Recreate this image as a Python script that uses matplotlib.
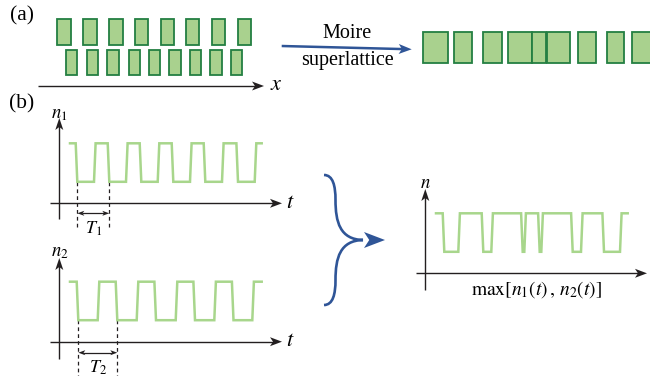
import numpy as np
import matplotlib.pyplot as plt
from matplotlib.patches import Rectangle, Polygon, PathPatch
from matplotlib.path import Path

plt.rcParams['font.family'] = ['Liberation Serif', 'DejaVu Serif']
plt.rcParams['mathtext.fontset'] = 'stix'

# =============================================================================
# Data
# =============================================================================

# (a) two lattices: left edges of the boxes
top_row_x = [57.3, 83.3, 109.3, 135.0, 161.0, 186.0, 212.0, 237.7]
bottom_row_x = [66.0, 86.7, 107.3, 128.7, 149.0, 169.3, 190.0, 210.3, 231.0]

# moire superlattice: box edges (left, right)
moire_left = [423.3, 454.3, 483.3, 507.7, 532.3, 546.7, 578.3, 607.3, 632.3]
moire_right = [447.7, 472.3, 501.7, 532.3, 546.0, 570.0, 595.7, 624.3, 656.0]

# (b) square waves, t measured from the n axis; low intervals (start, end)
t_span = (10.7, 202.4)
n1_lows = [(18.0, 34.7), (50.0, 66.7), (82.0, 98.4), (114.0, 130.7),
           (146.0, 162.7), (178.7, 195.4)]
n2_lows = [(19.0, 38.4), (58.0, 77.4), (96.7, 116.4), (135.7, 155.0),
           (174.2, 193.0)]
nmax_lows = [(19.0, 33.0), (58.0, 66.0), (97.4, 99.0), (114.4, 116.0),
             (147.4, 155.7), (178.7, 194.7)]
n_high = 60.0
n_low = 21.5

# colours
GREEN_FILL = '#a9d18e'
GREEN_EDGE = '#237f42'
WAVE = '#a8d68c'
BLUE = '#2f5597'
INK = '#231f20'


# =============================================================================
# Helpers
# =============================================================================

def stealth(ax, tip, d, length, width, color, notch=0.25):
    d = np.asarray(d, float)
    d = d / np.hypot(*d)
    p = np.array([-d[1], d[0]])
    tip = np.asarray(tip, float)
    back = tip - d * length
    pts = [tip, back + p * width / 2, tip - d * length * (1 - notch),
           back - p * width / 2]
    ax.add_patch(Polygon(pts, closed=True, fc=color, ec='none', zorder=5))


def arrow(ax, start, tip, color, lw, length, width, both=False):
    start = np.asarray(start, float)
    tip = np.asarray(tip, float)
    d = tip - start
    d = d / np.hypot(*d)
    a = start + d * length * 0.7 if both else start
    b = tip - d * length * 0.7
    ax.plot([a[0], b[0]], [a[1], b[1]], color=color, lw=lw,
            solid_capstyle='butt')
    stealth(ax, tip, d, length, width, color)
    if both:
        stealth(ax, start, -d, length, width, color)


def wave(ax, x0, y0, lows, slope=1.6):
    xs = [t_span[0]]
    ys = [n_high]
    for a, b in lows:
        xs += [a - slope, a, b, b + slope]
        ys += [n_high, n_low, n_low, n_high]
    xs.append(t_span[1])
    ys.append(n_high)
    ax.plot(x0 + np.array(xs), y0 - np.array(ys), color=WAVE, lw=1.8,
            solid_joinstyle='miter', zorder=3)


def axes_pair(ax, x0, y0, x_left, x_tip, y_bottom, y_tip):
    arrow(ax, (x_left, y0), (x_tip, y0), INK, 1.0, 12, 9)
    arrow(ax, (x0, y_bottom), (x0, y_tip), INK, 1.0, 12, 8)


# =============================================================================
# Figure
# =============================================================================

fig = plt.figure(figsize=(6.5, 3.76), dpi=100)
ax = fig.add_axes([0, 0, 1, 1])
ax.set_xlim(0, 650)
ax.set_ylim(376, 0)
ax.axis('off')

# ---------------------------------------------------
# (a) lattices and moire superlattice
# ---------------------------------------------------

for x in top_row_x:
    ax.add_patch(Rectangle((x, 19.0), 13.4, 26.0, fc=GREEN_FILL,
                           ec=GREEN_EDGE, lw=1.3))
for x in bottom_row_x:
    ax.add_patch(Rectangle((x, 49.5), 11.4, 25.5, fc=GREEN_FILL,
                           ec=GREEN_EDGE, lw=1.3))

arrow(ax, (38, 86), (264, 86), INK, 1.0, 12, 9)
ax.text(276, 85, '$x$', fontsize=16, ha='center', va='center')

arrow(ax, (281.7, 46.0), (411.7, 49.3), BLUE, 1.8, 13, 10)
ax.text(347, 33, 'Moire', fontsize=14.5, ha='center', va='center')
ax.text(347, 61, 'superlattice', fontsize=14.5, ha='center', va='center')

for l, r in zip(moire_left, moire_right):
    ax.add_patch(Rectangle((l, 32.0), r - l, 31.0, fc=GREEN_FILL,
                           ec=GREEN_EDGE, lw=1.3))

ax.text(22, 16, '(a)', fontsize=15.5, ha='center', va='center')
ax.text(22, 104, '(b)', fontsize=15.5, ha='center', va='center')

# ---------------------------------------------------
# (b) n1(t)
# ---------------------------------------------------

x0, y0 = 59.3, 203.3
axes_pair(ax, x0, y0, 50, 282, 219, 118)
wave(ax, x0, y0, n1_lows)
ax.text(51, 118.5, '$n_1$', fontsize=13.5, ha='left', va='baseline')
ax.text(290, 203, '$t$', fontsize=16, ha='center', va='center')
for t in (n1_lows[0][0], n1_lows[1][0]):
    ax.plot([x0 + t, x0 + t], [y0 - n_low, 229], color=INK, lw=0.9,
            ls=(0, (3, 2.5)))
arrow(ax, (x0 + n1_lows[0][0], 213.3), (x0 + n1_lows[1][0], 213.3), INK,
      0.9, 7, 5, both=True)
ax.text(85, 233.3, '$T_1$', fontsize=13, ha='left', va='baseline')

# ---------------------------------------------------
# (b) n2(t)
# ---------------------------------------------------

x0, y0 = 59.3, 341.7
axes_pair(ax, x0, y0, 50, 282, 359, 258)
wave(ax, x0, y0, n2_lows)
ax.text(51, 256.7, '$n_2$', fontsize=13.5, ha='left', va='baseline')
ax.text(290, 342, '$t$', fontsize=16, ha='center', va='center')
for t in (n2_lows[0][0], n2_lows[1][0]):
    ax.plot([x0 + t, x0 + t], [y0 - n_low, 380], color=INK, lw=0.9,
            ls=(0, (3, 2.5)))
arrow(ax, (x0 + n2_lows[0][0], 352.7), (x0 + n2_lows[1][0], 352.7), INK,
      0.9, 7, 5, both=True)
ax.text(89, 373, '$T_2$', fontsize=13, ha='left', va='baseline')

# ---------------------------------------------------
# combining brace
# ---------------------------------------------------

verts = [(324, 175), (333, 175), (335.5, 186), (335.5, 200),
         (335.5, 222), (340, 239.5), (363, 240),
         (340, 240.5), (335.5, 258), (335.5, 280),
         (335.5, 294), (333, 305), (324, 305)]
codes = [Path.MOVETO] + [Path.CURVE4] * 12
ax.add_patch(PathPatch(Path(verts, codes), fc='none', ec=BLUE, lw=1.9,
                       capstyle='butt'))
stealth(ax, (385, 240), (1, 0), 21, 16, BLUE)

# ---------------------------------------------------
# max[n1(t), n2(t)]
# ---------------------------------------------------

x0, y0 = 425.3, 273.3
axes_pair(ax, x0, y0, 416, 647, 290, 189)
wave(ax, x0, y0, nmax_lows)
ax.text(425.7, 187.7, '$n$', fontsize=13.5, ha='center', va='baseline')
ax.text(536, 295, r'$\mathrm{max}[n_1(t)\,,\,n_2(t)]$', fontsize=14,
        ha='center', va='baseline')

fig.savefig('out.png', dpi=100)
